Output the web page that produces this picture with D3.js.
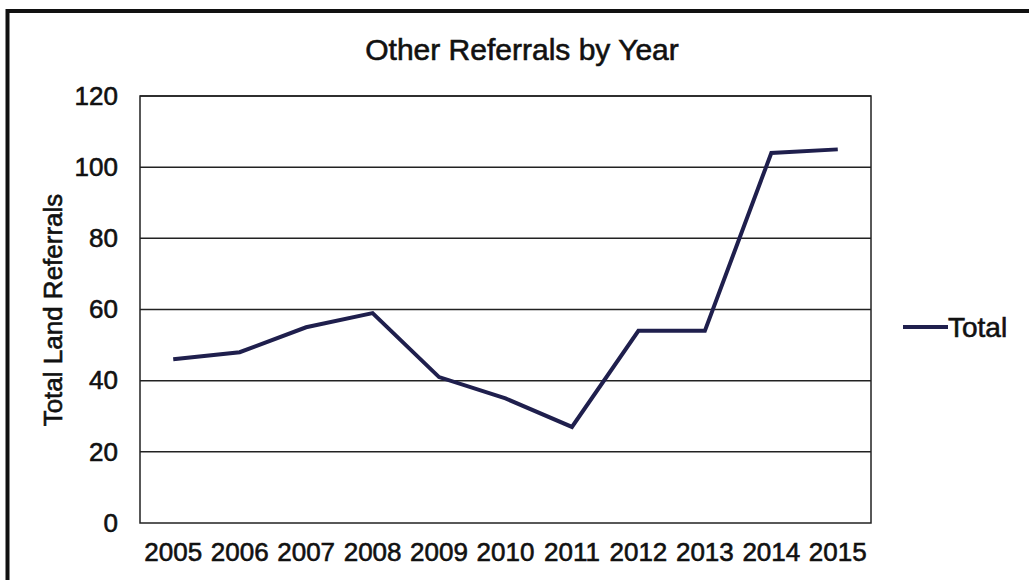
<!DOCTYPE html>
<html><head><meta charset="utf-8">
<script src="https://cdn.jsdelivr.net/npm/d3@7"></script>
<style>body{margin:0;background:#fff}svg{display:block}text{font-family:"Liberation Sans",Arial,sans-serif;fill:#111;stroke:#111;stroke-width:0.6px}</style>
</head><body>
<svg id="c" width="1029" height="580"></svg>
<script>
const years = ["2005","2006","2007","2008","2009","2010","2011","2012","2013","2014","2015"];
const totals = [46, 48, 55, 59, 41, 35, 27, 54, 54, 104, 105];
const yTicks = [0, 20, 40, 60, 80, 100, 120];
const seriesName = "Total";
const titleText = "Other Referrals by Year";
const yTitle = "Total Land Referrals";

const svg = d3.select("#c");
const m = {l:140, t:96, r:871, b:523};
const x = d3.scaleBand().domain(years).range([m.l, m.r]);
const y = d3.scaleLinear().domain([0,120]).range([m.b, m.t]);

// outer frame
svg.append("rect").attr("x",7.5).attr("y",11).attr("width",1100).attr("height",700)
  .attr("fill","none").attr("stroke","#111").attr("stroke-width",4);

// gridlines
svg.append("g").selectAll("line").data(yTicks.filter(d=>d>0)).join("line")
  .attr("x1",m.l).attr("x2",m.r).attr("y1",d=>y(d)).attr("y2",d=>y(d))
  .attr("stroke","#222").attr("stroke-width",1.5);

// plot border
svg.append("rect").attr("x",m.l).attr("y",m.t).attr("width",m.r-m.l).attr("height",m.b-m.t)
  .attr("fill","none").attr("stroke","#222").attr("stroke-width",1.5);

// y axis
const ya = svg.append("g").attr("transform",`translate(${m.l},0)`)
  .call(d3.axisLeft(y).tickValues(yTicks).tickSize(0).tickPadding(22));
ya.select(".domain").remove();
ya.selectAll("text").attr("font-size",26).style("font-family","Liberation Sans, Arial, sans-serif").attr("fill","#111");

// x axis
const xa = svg.append("g").attr("transform",`translate(0,${m.b})`)
  .call(d3.axisBottom(x).tickSize(0).tickPadding(20));
xa.select(".domain").remove();
xa.selectAll("text").attr("font-size",26).style("font-family","Liberation Sans, Arial, sans-serif").attr("fill","#111");

// line
const line = d3.line().x((d,i)=>x(years[i])+x.bandwidth()/2).y(d=>y(d));
svg.append("path").datum(totals).attr("d",line).attr("fill","none")
  .attr("stroke","#1f1f4d").attr("stroke-width",4).attr("stroke-linejoin","miter");

// title
svg.append("text").attr("x",522).attr("y",60).attr("text-anchor","middle").attr("font-size",30).text(titleText);

// y title
svg.append("text").attr("transform","translate(62,310) rotate(-90)").attr("text-anchor","middle")
  .attr("font-size",26).text(yTitle);

// legend
svg.append("line").attr("x1",903).attr("x2",948).attr("y1",327).attr("y2",327)
  .attr("stroke","#1f1f4d").attr("stroke-width",4);
svg.append("text").attr("x",948).attr("y",337).attr("font-size",28).text(seriesName);
</script>
</body></html>
